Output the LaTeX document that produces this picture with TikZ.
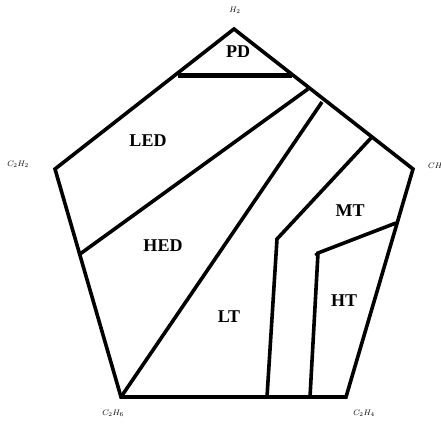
\documentclass[tikz,border=0pt]{standalone}
\usepackage{fontspec}
\setmainfont{Liberation Serif}
\begin{document}
\begin{tikzpicture}[x=1pt,y=-1pt,
  edge/.style={line width=3.6pt,line join=miter,line cap=butt},
  thick edge/.style={line width=5pt},
  region/.style={font=\bfseries\fontsize{18}{18}\selectfont,inner sep=0pt},
  gas/.style={font=\fontsize{8}{8}\selectfont,inner sep=0pt}]
\useasboundingbox (0,0) rectangle (441,426);
% pentagon vertices
\coordinate (T) at (234,29);
\coordinate (L) at (55,169);
\coordinate (R) at (413,169);
\coordinate (BL) at (121,397);
\coordinate (BR) at (346,397);
% internal points
\coordinate (pdL) at (178,75);
\coordinate (pdR) at (292,75);
\coordinate (a1) at (80,254);
\coordinate (a2) at (308,89);
\coordinate (b2) at (322,102);
\coordinate (m1) at (371,138);
\coordinate (m2) at (277,239);
\coordinate (m3) at (267,397);
\coordinate (h1) at (396,223);
\coordinate (h2) at (318,253);
\coordinate (h3) at (310,397);
\draw[edge] (T) -- (R) -- (BR) -- (BL) -- (L) -- cycle;
\draw[edge,line width=5pt] (pdL) -- (pdR);
\draw[edge] (a1) -- (a2);
\draw[edge] (BL) -- (b2);
\draw[edge] (m1) -- (m2) -- (m3);
\draw[edge] (h1) -- (h2) -- (h3);
\draw[edge,line width=2.5pt] (h2) -- ++(-3,2);
% region labels
\node[region] (pd) at (238,52) {PD};
\node[region] (led) at (148,141) {LED};
\node[region] (hed) at (163,246) {HED};
\node[region] (lt) at (229,317) {LT};
\node[region] (mt) at (350,211) {MT};
\node[region] (ht) at (344,301) {HT};
% gas labels
\node[gas] (h2lab) at (235,10) {$H_2$};
\node[gas] (c2h2) at (18,164) {$C_2H_2$};
\node[gas,anchor=west] (ch4) at (428,166) {$CH_4$};
\node[gas] (c2h6) at (113,413) {$C_2H_6$};
\node[gas] (c2h4) at (364,413) {$C_2H_4$};
\end{tikzpicture}
\end{document}
